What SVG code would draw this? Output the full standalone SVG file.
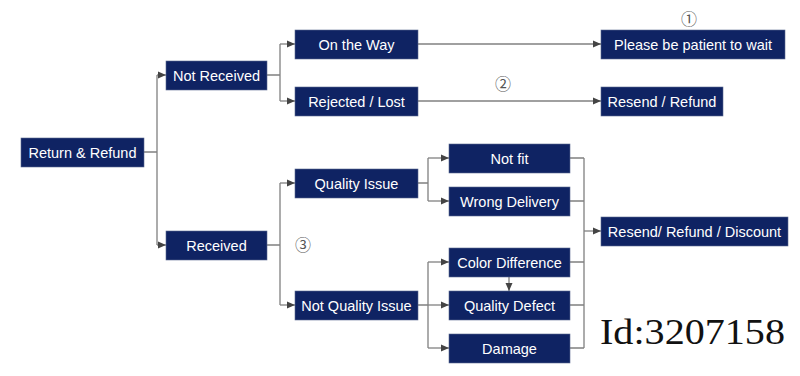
<svg xmlns="http://www.w3.org/2000/svg" width="800" height="376" viewBox="0 0 800 376">
<defs>
<marker id="ah" viewBox="0 0 8 8" refX="8" refY="4" markerWidth="8" markerHeight="8" markerUnits="userSpaceOnUse" orient="auto">
<path d="M0,0.5 L8,4 L0,7.5 Z" fill="#444"/>
</marker>
<style>
.box{fill:#0f2363;stroke:#5a6a90;stroke-width:0.6}
.t{fill:#fff;font-family:"Liberation Sans",Arial,sans-serif;font-size:14.5px;text-anchor:middle;dominant-baseline:central}
.c{fill:none;stroke:#808080;stroke-width:1.3}
.a{marker-end:url(#ah)}
.num{fill:#555;font-family:"Noto Sans CJK SC","DejaVu Sans",sans-serif;font-size:16px;text-anchor:middle;dominant-baseline:central}
</style>
</defs>
<rect width="800" height="376" fill="#fff"/>
<g id="connectors">
<path class="c" d="M144,152 H157 M157,75 V245"/>
<path class="c a" d="M157,75 H166"/>
<path class="c a" d="M157,245 H166"/>
<path class="c" d="M267,75 H280 M280,44 V101"/>
<path class="c a" d="M280,44 H295"/>
<path class="c a" d="M280,101 H295"/>
<path class="c a" d="M418,44 H601"/>
<path class="c a" d="M418,101 H601"/>
<path class="c" d="M267,245 H280 M280,183 V305"/>
<path class="c a" d="M280,183 H295"/>
<path class="c a" d="M280,305 H295"/>
<path class="c" d="M418,183 H428 M428,158 V201"/>
<path class="c a" d="M428,158 H449"/>
<path class="c a" d="M428,201 H449"/>
<path class="c" d="M418,305 H428 M428,262 V348"/>
<path class="c a" d="M428,262 H449"/>
<path class="c a" d="M428,305 H449"/>
<path class="c a" d="M428,348 H449"/>
<path class="c a" d="M509,277 V291"/>
<path class="c" d="M570,158 H584 M570,201 H584 M570,262 H584 M570,305 H584 M570,348 H584 M584,158 V348"/>
<path class="c a" d="M584,231 H601"/>
</g>
<g id="n-return"><rect class="box" x="21" y="138" width="123" height="29"/><text class="t" x="82.5" y="152.5">Return &amp; Refund</text></g>
<g id="n-notreceived"><rect class="box" x="166" y="61" width="101" height="29"/><text class="t" x="216.5" y="75.5">Not Received</text></g>
<g id="n-received"><rect class="box" x="166" y="231" width="101" height="29"/><text class="t" x="216.5" y="245.5">Received</text></g>
<g id="n-ontheway"><rect class="box" x="295" y="30" width="123" height="29"/><text class="t" x="356.5" y="44.5">On the Way</text></g>
<g id="n-rejected"><rect class="box" x="295" y="87" width="123" height="29"/><text class="t" x="356.5" y="101.5">Rejected / Lost</text></g>
<g id="n-quality"><rect class="box" x="295" y="169" width="123" height="29"/><text class="t" x="356.5" y="183.5">Quality Issue</text></g>
<g id="n-notquality"><rect class="box" x="295" y="291" width="123" height="29"/><text class="t" x="356.5" y="305.5">Not Quality Issue</text></g>
<g id="n-patient"><rect class="box" x="601" y="30" width="184" height="29"/><text class="t" x="693" y="44.5">Please be patient to wait</text></g>
<g id="n-resend"><rect class="box" x="601" y="87" width="122" height="29"/><text class="t" x="662" y="101.5">Resend / Refund</text></g>
<g id="n-notfit"><rect class="box" x="449" y="144" width="121" height="29"/><text class="t" x="509.5" y="158.5">Not fit</text></g>
<g id="n-wrong"><rect class="box" x="449" y="187" width="121" height="29"/><text class="t" x="509.5" y="201.5">Wrong Delivery</text></g>
<g id="n-color"><rect class="box" x="449" y="248" width="121" height="29"/><text class="t" x="509.5" y="262.5">Color Difference</text></g>
<g id="n-defect"><rect class="box" x="449" y="291" width="121" height="29"/><text class="t" x="509.5" y="305.5">Quality Defect</text></g>
<g id="n-damage"><rect class="box" x="449" y="334" width="121" height="29"/><text class="t" x="509.5" y="348.5">Damage</text></g>
<g id="n-discount"><rect class="box" x="601" y="217" width="187" height="29"/><text class="t" x="694.5" y="231.5">Resend/ Refund / Discount</text></g>
<text class="num" x="689" y="18">①</text>
<text class="num" x="503" y="83">②</text>
<text class="num" x="303" y="244">③</text>
<text x="600" y="344" font-family="'Liberation Serif','DejaVu Serif',serif" font-size="36" fill="#111" textLength="185" lengthAdjust="spacingAndGlyphs">Id:3207158</text>
</svg>
